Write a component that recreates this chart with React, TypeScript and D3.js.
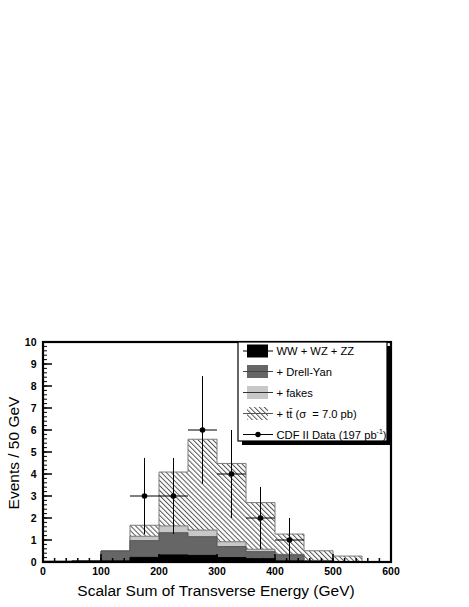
import React from "react";
import * as d3 from "d3";

// bin low edges (GeV), width 50
const binLow = [0, 50, 100, 150, 200, 250, 300, 350, 400, 450, 500, 550];
const binWidth = 50;

// cumulative stacked predictions (events / 50 GeV)
const dibosonStack = [0.02, 0.03, 0.05, 0.21, 0.32, 0.3, 0.2, 0.15, 0.05, 0.02, 0, 0];
const drellYanStack = [0.03, 0.06, 0.5, 0.97, 1.33, 1.15, 0.7, 0.47, 0.32, 0.06, 0.01, 0];
const fakesStack = [0.03, 0.06, 0.5, 1.17, 1.64, 1.45, 0.92, 0.58, 0.35, 0.07, 0.02, 0];
const ttbarStack = [0.03, 0.06, 0.5, 1.67, 4.09, 5.58, 4.48, 2.7, 1.27, 0.51, 0.27, 0];

// CDF II data
const dataCenters = [175, 225, 275, 325, 375, 425];
const dataCounts = [3, 3, 6, 4, 2, 1];
const dataErrors = [1.73, 1.73, 2.45, 2.0, 1.41, 1.0];

const xTicks = [0, 100, 200, 300, 400, 500, 600];
const yTicks = [0, 1, 2, 3, 4, 5, 6, 7, 8, 9, 10];

const W = 469;
const H = 607;
const font = "'Liberation Sans', Arial, Helvetica, sans-serif";

export default function App() {
  const x = d3.scaleLinear().domain([0, 600]).range([43, 391]);
  const y = d3.scaleLinear().domain([0, 10]).range([562, 342]);

  const stepPts = (vals: number[]) => {
    const pts: [number, number][] = binLow.map((b, i) => [b, vals[i]]);
    pts.push([binLow[binLow.length - 1] + binWidth, vals[vals.length - 1]]);
    return pts;
  };

  const area = d3
    .area<[number, number]>()
    .x((d) => x(d[0]))
    .y0(y(0))
    .y1((d) => y(d[1]))
    .curve(d3.curveStepAfter);

  const line = d3
    .line<[number, number]>()
    .x((d) => x(d[0]))
    .y((d) => y(d[1]))
    .curve(d3.curveStepAfter);

  const layers = [
    { vals: ttbarStack, fill: "url(#hatch)", stroke: "#7a7a7a" },
    { vals: fakesStack, fill: "#c8c8c8", stroke: "#7a7a7a" },
    { vals: drellYanStack, fill: "#666666", stroke: "#555555" },
    { vals: dibosonStack, fill: "#000000", stroke: "#000000" },
  ];

  const xMinor = d3.range(0, 601, 20);
  const yMinor = d3.range(0, 10.01, 0.2);

  // legend
  const lgX = 238;
  const lgY = 342;
  const lgW = 149;
  const lgH = 99;
  const rowY = [351, 371.5, 392.5, 413.5, 434.5];
  const symX0 = 243;
  const symX1 = 273;
  const boxX0 = 247;
  const boxX1 = 268;
  const textX = 276.5;

  return (
    <div style={{ position: "fixed", left: 0, top: 0 }}>
      <svg width={W} height={H} style={{ display: "block", background: "#fff" }}>
        <defs>
          <pattern
            id="hatch"
            width={3.5}
            height={3.5}
            patternUnits="userSpaceOnUse"
            patternTransform="rotate(-45)"
          >
            <rect width={3.5} height={3.5} fill="#fff" />
            <line x1={0.5} y1={0} x2={0.5} y2={3.5} stroke="#555" strokeWidth={1} />
          </pattern>
        </defs>
        <rect width={W} height={H} fill="#fff" />

        {/* stacked histograms */}
        {layers.map((l, i) => (
          <g key={i}>
            <path d={area(stepPts(l.vals)) || ""} fill={l.fill} />
            <path d={line(stepPts(l.vals)) || ""} fill="none" stroke={l.stroke} strokeWidth={1} />
          </g>
        ))}

        {/* data points */}
        {dataCenters.map((c, i) => (
          <g key={i} stroke="#000" strokeWidth={1}>
            <line x1={x(c - binWidth / 2)} x2={x(c + binWidth / 2)} y1={y(dataCounts[i])} y2={y(dataCounts[i])} />
            <line
              x1={x(c)}
              x2={x(c)}
              y1={y(dataCounts[i] - dataErrors[i])}
              y2={y(dataCounts[i] + dataErrors[i])}
            />
            <circle cx={x(c)} cy={y(dataCounts[i])} r={2.8} fill="#000" stroke="none" />
          </g>
        ))}

        {/* ticks */}
        <g stroke="#000" strokeWidth={1}>
          {yMinor.map((v, i) => (
            <line key={"ym" + i} x1={x(0)} x2={x(0) + 4} y1={y(v)} y2={y(v)} />
          ))}
          {yTicks.map((v) => (
            <line key={"yM" + v} x1={x(0)} x2={x(0) + 9} y1={y(v)} y2={y(v)} strokeWidth={1.5} />
          ))}
          {xMinor.map((v, i) => (
            <line key={"xm" + i} x1={x(v)} x2={x(v)} y1={y(0)} y2={y(0) - 4} strokeWidth={1.5} />
          ))}
          {xTicks.map((v) => (
            <line key={"xM" + v} x1={x(v)} x2={x(v)} y1={y(0)} y2={y(0) - 8} strokeWidth={1.5} />
          ))}
        </g>

        {/* frame */}
        <rect
          x={x(0)}
          y={y(10)}
          width={x(600) - x(0)}
          height={y(0) - y(10)}
          fill="none"
          stroke="#000"
          strokeWidth={2.2}
        />

        {/* tick labels */}
        <g fontFamily={font} fontWeight="bold" fontSize={10.5} fill="#000">
          {xTicks.map((v) => (
            <text key={"xl" + v} x={x(v)} y={575} textAnchor="middle">
              {v}
            </text>
          ))}
          {yTicks.map((v) => (
            <text key={"yl" + v} x={36.5} y={y(v) + 3.8} textAnchor="end">
              {v}
            </text>
          ))}
        </g>

        {/* axis titles */}
        <text x={216} y={596} textAnchor="middle" fontFamily={font} fontSize={15.5} fill="#000">
          Scalar Sum of Transverse Energy (GeV)
        </text>
        <text
          transform={`translate(18.5, 453) rotate(-90)`}
          textAnchor="middle"
          fontFamily={font}
          fontSize={15.5}
          fill="#000"
        >
          Events / 50 GeV
        </text>

        {/* legend */}
        <rect x={lgX + 4} y={lgY + 4} width={lgW} height={lgH} fill="#000" />
        <rect x={lgX} y={lgY} width={lgW} height={lgH} fill="#fff" stroke="#000" strokeWidth={1.2} />
        <g fontFamily={font} fontSize={11.2} fill="#000">
          {/* WW + WZ + ZZ */}
          <line x1={symX0} x2={symX1} y1={rowY[0]} y2={rowY[0]} stroke="#000" />
          <rect x={boxX0} y={rowY[0] - 6.5} width={boxX1 - boxX0} height={13} fill="#000" />
          <text x={textX} y={rowY[0] + 4}>WW + WZ + ZZ</text>

          {/* Drell-Yan */}
          <rect x={boxX0} y={rowY[1] - 6.5} width={boxX1 - boxX0} height={13} fill="#666" />
          <line x1={symX0} x2={symX1} y1={rowY[1]} y2={rowY[1]} stroke="#444" />
          <text x={textX} y={rowY[1] + 4}>+ Drell-Yan</text>

          {/* fakes */}
          <rect x={boxX0} y={rowY[2] - 6.5} width={boxX1 - boxX0} height={13} fill="#c8c8c8" />
          <line x1={symX0} x2={symX1} y1={rowY[2]} y2={rowY[2]} stroke="#333" />
          <text x={textX} y={rowY[2] + 4}>+ fakes</text>

          {/* ttbar */}
          <rect x={boxX0} y={rowY[3] - 6.5} width={boxX1 - boxX0} height={13} fill="url(#hatch)" />
          <line x1={symX0} x2={symX1} y1={rowY[3]} y2={rowY[3]} stroke="#555" />
          <text x={textX} y={rowY[3] + 4} style={{ whiteSpace: "pre" }}>
            {"+ tt\u0304 (\u03c3  = 7.0 pb)"}
          </text>

          {/* data */}
          <line x1={symX0} x2={symX1} y1={rowY[4]} y2={rowY[4]} stroke="#000" />
          <circle cx={(symX0 + symX1) / 2} cy={rowY[4]} r={2.7} fill="#000" />
          <text x={textX} y={rowY[4] + 4}>
            CDF II Data (197 pb
            <tspan fontSize={7} dy={-5}>
              -1
            </tspan>
            <tspan dy={5}>)</tspan>
          </text>
        </g>
      </svg>
    </div>
  );
}
